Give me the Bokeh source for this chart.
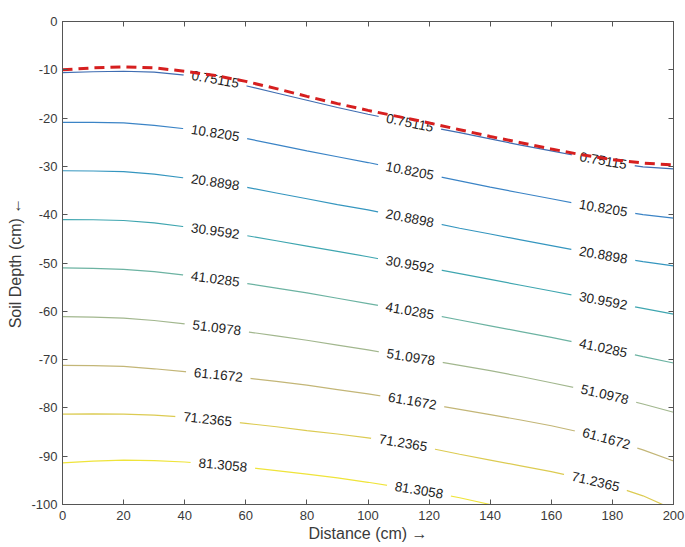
import math
import numpy as np
from bokeh.plotting import figure
from bokeh.models import ColumnDataSource, LinearAxis, FixedTicker, Range1d
from bokeh.core.properties import value
from bokeh.embed import file_html
from bokeh.resources import INLINE

# Horizontal sample positions (cm)
DIST = [0, 10, 20, 30, 40, 50, 60, 70, 80, 90, 100,
        110, 120, 130, 140, 150, 160, 170, 180, 190, 200]

# Wetting-front / surface boundary (cm)
SURFACE = [-10.0, -9.6, -9.4, -9.6, -10.3, -11.2, -12.4, -13.9, -15.5, -17.0, -18.4,
           -19.7, -21.0, -22.4, -23.8, -25.1, -26.4, -27.6, -28.6, -29.3, -29.7]

# Contour levels
LEVELS = [0.75115, 10.8205, 20.8898, 30.9592, 41.0285,
          51.0978, 61.1672, 71.2365, 81.3058]

# Depth of each contour line at the DIST positions (cm); nan = outside the domain
NAN = float("nan")
DEPTH_L0 = [-10.6, -10.4, -10.3, -10.5, -11.1, -12.0, -13.3, -14.8, -16.3, -17.8, -19.2,
            -20.5, -21.8, -23.0, -24.3, -25.6, -26.8, -28.0, -29.2, -30.1, -30.5]
DEPTH_L1 = [-20.9, -20.9, -21.0, -21.5, -22.2, -23.1, -24.2, -25.5, -26.8, -28.0, -29.2,
            -30.5, -31.7, -33.0, -34.3, -35.5, -36.7, -37.9, -39.0, -40.0, -40.7]
DEPTH_L2 = [-30.9, -30.95, -31.1, -31.6, -32.4, -33.3, -34.3, -35.5, -36.7, -37.9, -39.0,
            -40.3, -41.5, -42.8, -44.0, -45.2, -46.4, -47.6, -48.7, -49.7, -50.6]
DEPTH_L3 = [-41.0, -41.05, -41.2, -41.7, -42.5, -43.4, -44.3, -45.4, -46.5, -47.6, -48.7,
            -49.9, -51.0, -52.2, -53.4, -54.6, -55.8, -57.0, -58.2, -59.4, -60.6]
DEPTH_L4 = [-51.0, -51.1, -51.3, -51.8, -52.5, -53.3, -54.2, -55.2, -56.2, -57.3, -58.4,
            -59.5, -60.6, -61.8, -63.0, -64.2, -65.4, -66.7, -68.0, -69.4, -70.7]
DEPTH_L5 = [-61.1, -61.2, -61.4, -61.9, -62.6, -63.4, -64.2, -65.1, -66.0, -67.0, -68.0,
            -69.1, -70.1, -71.2, -72.3, -73.5, -74.8, -76.1, -77.6, -79.2, -80.9]
DEPTH_L6 = [-71.2, -71.25, -71.4, -71.9, -72.5, -73.1, -73.8, -74.5, -75.3, -76.2, -77.1,
            -78.1, -79.2, -80.3, -81.4, -82.5, -83.7, -85.1, -86.7, -88.7, -91.0]
DEPTH_L7 = [-81.3, -81.25, -81.3, -81.5, -81.9, -82.5, -83.2, -83.9, -84.7, -85.4, -86.2,
            -87.1, -88.3, -89.6, -90.8, -92.0, -93.2, -94.6, -96.1, -98.2, -101.0]
DEPTH_L8 = [-91.4, -91.0, -90.8, -90.9, -91.2, -91.7, -92.3, -93.0, -93.7, -94.5, -95.4,
            -96.4, -97.4, -98.6, -100.0, -101.4, NAN, NAN, NAN, NAN, NAN]
CONTOURS = [DEPTH_L0, DEPTH_L1, DEPTH_L2, DEPTH_L3, DEPTH_L4,
            DEPTH_L5, DEPTH_L6, DEPTH_L7, DEPTH_L8]

# Parula-like line colours, one per level
LINE_COLORS = ["#3f6db2", "#3b84c6", "#3596bf", "#3fa6b0", "#6cb3a2",
               "#a2b78e", "#c3b677", "#dccb52", "#efe43a"]

# Where along each contour its inline labels sit (cm)
LABEL_X = [[50, 113.7, 177], [50, 113.7, 177], [50, 113.7, 177],
           [50, 113.7, 177], [50, 113.7, 177], [50.5, 114, 177.5],
           [51, 114.5, 178], [47.5, 111.5, 174.5], [52.5, 116.7]]

X_TICKS = list(range(0, 201, 20))
Y_TICKS = list(range(-100, 1, 10))

FONT = "Liberation Sans"
LABEL_FONT = "'Liberation Sans', 'DejaVu Sans', sans-serif"
AXIS_COLOR = "#555555"
FRAME_W, FRAME_H = 611, 483
X_RANGE = (0, 200)
Y_RANGE = (-100, 0)

p = figure(frame_width=FRAME_W, frame_height=FRAME_H,
           x_range=Range1d(*X_RANGE), y_range=Range1d(*Y_RANGE),
           output_backend="svg", toolbar_location=None,
           min_border_left=62, min_border_right=12,
           min_border_top=21, min_border_bottom=43,
           background_fill_color="white", border_fill_color="white")
p.grid.visible = False
p.outline_line_color = AXIS_COLOR
p.outline_line_width = 1

p.xaxis.axis_label = "Distance (cm) \u2192"
p.yaxis.axis_label = "Soil Depth (cm) \u2190"
p.xaxis.ticker = FixedTicker(ticks=X_TICKS)
p.yaxis.ticker = FixedTicker(ticks=Y_TICKS)
# plain hyphen-minus tick labels
p.xaxis.major_label_overrides = {t: str(t) for t in X_TICKS}
p.yaxis.major_label_overrides = {t: str(t) for t in Y_TICKS}
for ax in (p.xaxis[0], p.yaxis[0]):
    ax.axis_line_color = AXIS_COLOR
    ax.major_tick_line_color = AXIS_COLOR
    ax.major_tick_in = 5
    ax.major_tick_out = 0
    ax.minor_tick_line_color = None
    ax.major_label_text_font = FONT
    ax.major_label_text_font_size = "13px"
    ax.major_label_text_color = "#3a3a3a"
    ax.axis_label_text_font = LABEL_FONT
    ax.axis_label_text_font_size = "16px"
    ax.axis_label_text_font_style = "normal"
    ax.axis_label_text_color = "#3a3a3a"
p.xaxis.major_label_standoff = 6
p.xaxis.axis_label_standoff = 2
p.yaxis.major_label_standoff = 5
p.yaxis.axis_label_standoff = 4

# Box ticks on the top and right edges, without labels
for ticks, side in ((X_TICKS, "above"), (Y_TICKS, "right")):
    ax = LinearAxis(ticker=FixedTicker(ticks=ticks))
    ax.axis_line_color = AXIS_COLOR
    ax.major_tick_line_color = AXIS_COLOR
    ax.major_tick_in = 5
    ax.major_tick_out = 0
    ax.minor_tick_line_color = None
    ax.major_label_overrides = {t: "" for t in ticks}
    ax.major_label_standoff = 0
    p.add_layout(ax, side)

# Contour lines
dist = np.array(DIST, dtype=float)
for depths, color in zip(CONTOURS, LINE_COLORS):
    p.line(dist, np.array(depths, dtype=float), line_color=color, line_width=1.2)

# Inline contour labels, rotated along each line in screen space
px_per_x = FRAME_W / (X_RANGE[1] - X_RANGE[0])
px_per_y = FRAME_H / (Y_RANGE[1] - Y_RANGE[0])
lx, ly, lt, la = [], [], [], []
for level, depths, xs in zip(LEVELS, CONTOURS, LABEL_X):
    d = np.array(depths, dtype=float)
    ok = ~np.isnan(d)
    for x in xs:
        y = float(np.interp(x, dist[ok], d[ok]))
        y1 = float(np.interp(x - 6, dist[ok], d[ok]))
        y2 = float(np.interp(x + 6, dist[ok], d[ok]))
        slope = (y2 - y1) * px_per_y / (12 * px_per_x)
        lx.append(x)
        ly.append(y)
        lt.append("{:g}".format(level))
        la.append(math.atan(slope))
labels = ColumnDataSource(data=dict(x=lx, y=ly, text=lt, angle=la))
p.text(x="x", y="y", text="text", angle="angle", source=labels,
       text_font=value(FONT), text_font_size="13.5px", text_color="#1e1e1e",
       text_align="center", text_baseline="middle",
       background_fill_color="white", padding=(8, 1))

# Boundary curve
p.line(DIST, SURFACE, line_color="#d61f1f", line_width=3, line_dash="10 6")

open("out.html", "w").write(file_html(p, INLINE))
